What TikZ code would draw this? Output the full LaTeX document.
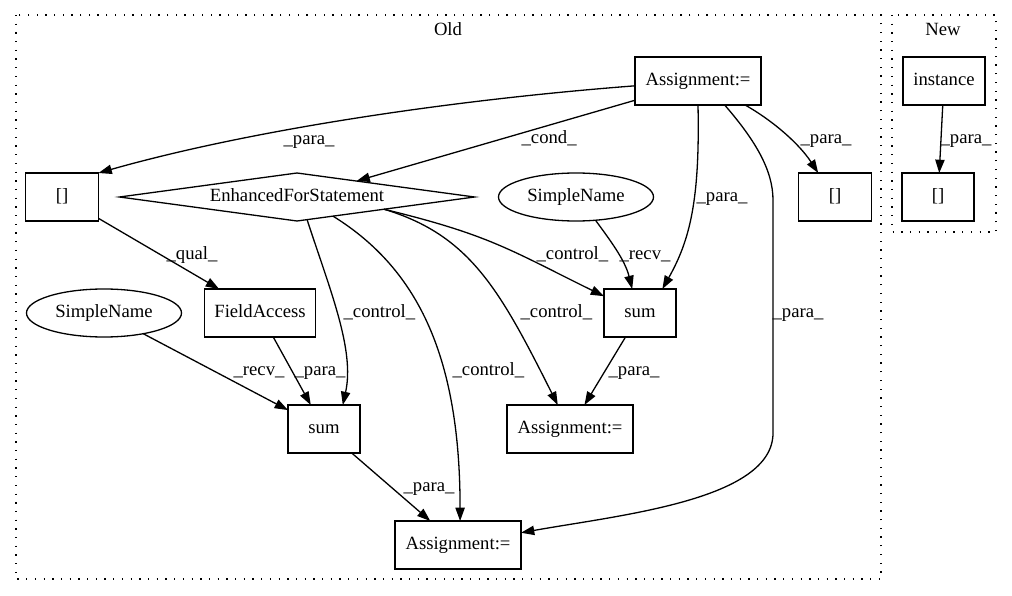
\documentclass[tikz,border=0pt]{standalone}
\usepackage{fontspec}
\setmainfont{Liberation Serif}
\usetikzlibrary{arrows.meta,shapes.geometric}
\begin{document}
\begin{tikzpicture}[x=1pt,y=-1pt,line width=1.3pt,stmt node/.style={draw, rectangle, font=\fontsize{18.67pt}{22pt}\selectfont, align=center, minimum height=48pt, inner sep=0pt, outer sep=0pt, text height=13pt, text depth=4pt},name node/.style={draw, ellipse, font=\fontsize{18.67pt}{22pt}\selectfont, minimum width=155pt, minimum height=48pt, inner sep=0pt, outer sep=0pt, text height=13pt, text depth=4pt},cond node/.style={draw, diamond, shape aspect=7.4, font=\fontsize{18.67pt}{22pt}\selectfont, minimum width=355pt, minimum height=48pt, inner sep=0pt, outer sep=0pt, text height=13pt, text depth=4pt},edge label/.style={anchor=west, inner sep=0pt, font=\fontsize{18.67pt}{22pt}\selectfont, text height=13pt, text depth=4pt},cluster title/.style={inner sep=0pt, font=\fontsize{18.67pt}{22pt}\selectfont, text height=13pt, text depth=4pt},cluster box/.style={dash pattern=on 1.3pt off 7.4pt},flow/.style={-{Triangle[length=13.3pt,width=9.3pt]}}]%
\path[use as bounding box] (0,0) rectangle (1012,596);%
  % Clusters%
\draw[cluster box] (16,15) rectangle (881,579);%
\draw[cluster box] (892,15) rectangle (996,232);%
\node[cluster title] (oldT) at (448,31) {Old};%
\node[cluster title] (newT) at (943,31) {New};%
  % Old: rank 1%
\node[stmt node, minimum width=126pt] (a1) at (698,81) {Assignment:=};%
  % Old: rank 2%
\node[stmt node, minimum width=73pt] (lb) at (62,197) {[]};%
\node[cond node] (efs) at (297,197) {EnhancedForStatement};%
\node[name node] (snR) at (576,197) {SimpleName};%
\node[stmt node, minimum width=73pt] (rb) at (835,197) {[]};%
  % Old: rank 3%
\node[name node] (snL) at (104,313) {SimpleName};%
\node[stmt node, minimum width=111pt] (fa) at (260,313) {FieldAccess};%
\node[stmt node, minimum width=72pt] (sumR) at (640,313) {sum};%
  % Old: rank 4%
\node[stmt node, minimum width=72pt] (sumL) at (324,429) {sum};%
\node[stmt node, minimum width=126pt] (asM) at (570,429) {Assignment:=};%
  % Old: rank 5%
\node[stmt node, minimum width=126pt] (asB) at (458,545) {Assignment:=};%
  % New%
\node[stmt node, minimum width=82pt] (inst) at (944,81) {instance};%
\node[stmt node, minimum width=72pt] (nb) at (938,197) {[]};%
  % Edges from Assignment%
\draw[flow] (a1) .. controls (450,100) and (250,130) .. (lb.north east);%
\draw[flow] (a1.197) -- (efs.15);%
\draw[flow] (a1.south) .. controls (700,200) and (690,240) .. (sumR.47);%
\draw[flow] (a1.-27) .. controls (775,122) and (800,145) .. (rb.125);%
\draw[flow] (a1.-42) .. controls (755,140) and (773,170) .. (773,200) -- (773,433) .. controls (773,500) and (620,515) .. (asB.11);%
  % Edges from EnhancedForStatement%
\draw[flow] (efs.-8) .. controls (490,235) and (510,250) .. (sumR.155);%
\draw[flow] (efs.-8) .. controls (470,235) and (500,290) .. (asM.117);%
\draw[flow] (efs.-66) .. controls (330,290) and (355,350) .. (sumL.52);%
\draw[flow] (efs.-28) .. controls (420,270) and (460,360) .. (asB.85);%
  % Other edges%
\draw[flow] (snR.-50) .. controls (610,240) and (625,260) .. (sumR.108);%
\draw[flow] (sumR) -- (asM);%
\draw[flow] (lb) -- (fa);%
\draw[flow] (fa) -- (sumL);%
\draw[flow] (snL) -- (sumL);%
\draw[flow] (sumL) -- (asB);%
\draw[flow] (inst) -- (nb);%
  % Edge labels%
\node[edge label] (l1) at (283,140) {\_para\_};%
\node[edge label] (l2) at (521,139) {\_cond\_};%
\node[edge label] (l3) at (696,197) {\_para\_};%
\node[edge label] (l4) at (800,139) {\_para\_};%
\node[edge label] (l5) at (772,313) {\_para\_};%
\node[edge label] (l6) at (940,139) {\_para\_};%
\node[edge label] (l7) at (536,255) {\_control\_};%
\node[edge label] (l8) at (619,255) {\_recv\_};%
\node[edge label] (l9) at (520,313) {\_control\_};%
\node[edge label] (l10) at (343,313) {\_control\_};%
\node[edge label] (l11) at (452,371) {\_control\_};%
\node[edge label] (l12) at (166,255) {\_qual\_};%
\node[edge label] (l13) at (294,371) {\_para\_};%
\node[edge label] (l14) at (233,371) {\_recv\_};%
\node[edge label] (l15) at (403,487) {\_para\_};%
\node[edge label] (l16) at (608,371) {\_para\_};%
\end{tikzpicture}
\end{document}
